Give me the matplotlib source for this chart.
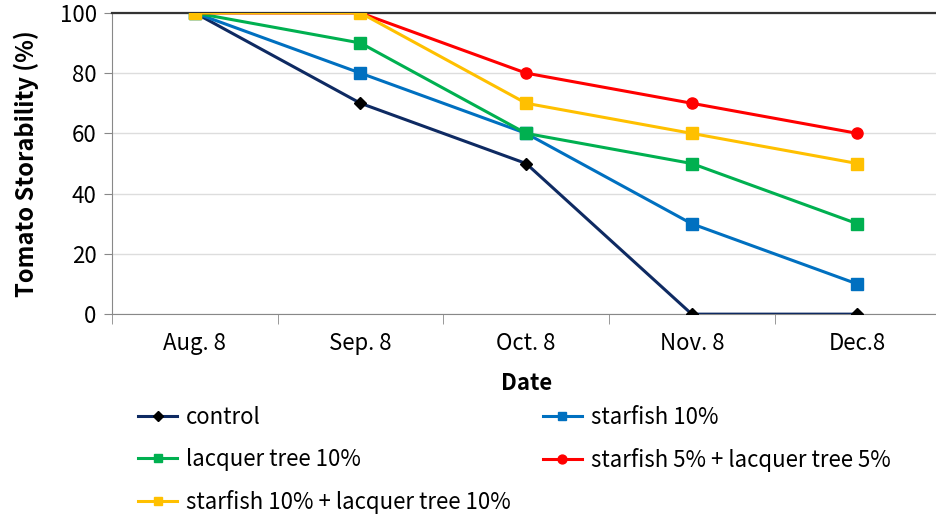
import numpy as np
import matplotlib.pyplot as plt
from matplotlib.ticker import FixedLocator

plt.rcParams['font.family'] = ['Noto Sans CJK KR', 'DejaVu Sans']

dates = ['Aug. 8', 'Sep. 8', 'Oct. 8', 'Nov. 8', 'Dec.8']
control = [100, 70, 50, 0, 0]
starfish_10 = [100, 80, 60, 30, 10]
lacquer_10 = [100, 90, 60, 50, 30]
star5_lac5 = [100, 100, 80, 70, 60]
star10_lac10 = [100, 100, 70, 60, 50]

x = np.arange(len(dates))

fig = plt.figure(figsize=(9.37, 5.15), dpi=100)
ax = fig.add_axes([0.1195, 0.390, 0.884, 0.585])

l_ctrl, = ax.plot(x, control, color='#0e2a62', lw=2.2, marker='D', ms=6,
                  mfc='black', mec='black', label='control', zorder=3)
l_sf, = ax.plot(x, starfish_10, color='#0070c0', lw=2.2, marker='s', ms=8,
                label='starfish 10%', zorder=3)
l_lq, = ax.plot(x, lacquer_10, color='#00b050', lw=2.2, marker='s', ms=8,
                label='lacquer tree 10%', zorder=3)
l_55, = ax.plot(x, star5_lac5, color='#ff0000', lw=2.2, marker='o', ms=8,
                label='starfish 5% + lacquer tree 5%', zorder=3)
l_1010, = ax.plot(x, star10_lac10, color='#ffc000', lw=2.2, marker='s', ms=8,
                  label='starfish 10% + lacquer tree 10%', zorder=3)

ax.set_xlim(-0.5, 4.5)
ax.set_ylim(0, 100)
ax.set_yticks([0, 20, 40, 60, 80, 100])
ax.set_xticks(x)
ax.set_xticklabels(dates)
ax.xaxis.set_minor_locator(FixedLocator(np.arange(-0.5, 5, 1)))
ax.tick_params(axis='x', which='major', length=0, labelsize=16, pad=13)
ax.tick_params(axis='x', which='minor', length=7, color='#888888', direction='out')
ax.tick_params(axis='y', length=6, color='#888888', labelsize=16, pad=5)

ax.grid(axis='y', color='#dddddd', lw=1)
ax.set_axisbelow(True)
for s in ['left', 'bottom']:
    ax.spines[s].set_color('#888888')
ax.spines['top'].set_color('#333333')
ax.spines['top'].set_linewidth(1.6)
ax.spines['right'].set_visible(False)

ax.set_ylabel('Tomato Storability (%)', fontsize=17, fontweight='bold', labelpad=15)
ax.set_xlabel('Date', fontsize=16, fontweight='bold', labelpad=12)

handles = [l_ctrl, l_lq, l_1010, l_sf, l_55]
leg = fig.legend(handles, [h.get_label() for h in handles], ncol=2,
                 loc='upper left', bbox_to_anchor=(0.126, 0.25),
                 frameon=False, fontsize=16, handlelength=1.75,
                 columnspacing=1.45, labelspacing=0.85, handletextpad=0.4,
                 markerscale=0.8)

fig.savefig('out.png', dpi=100)
